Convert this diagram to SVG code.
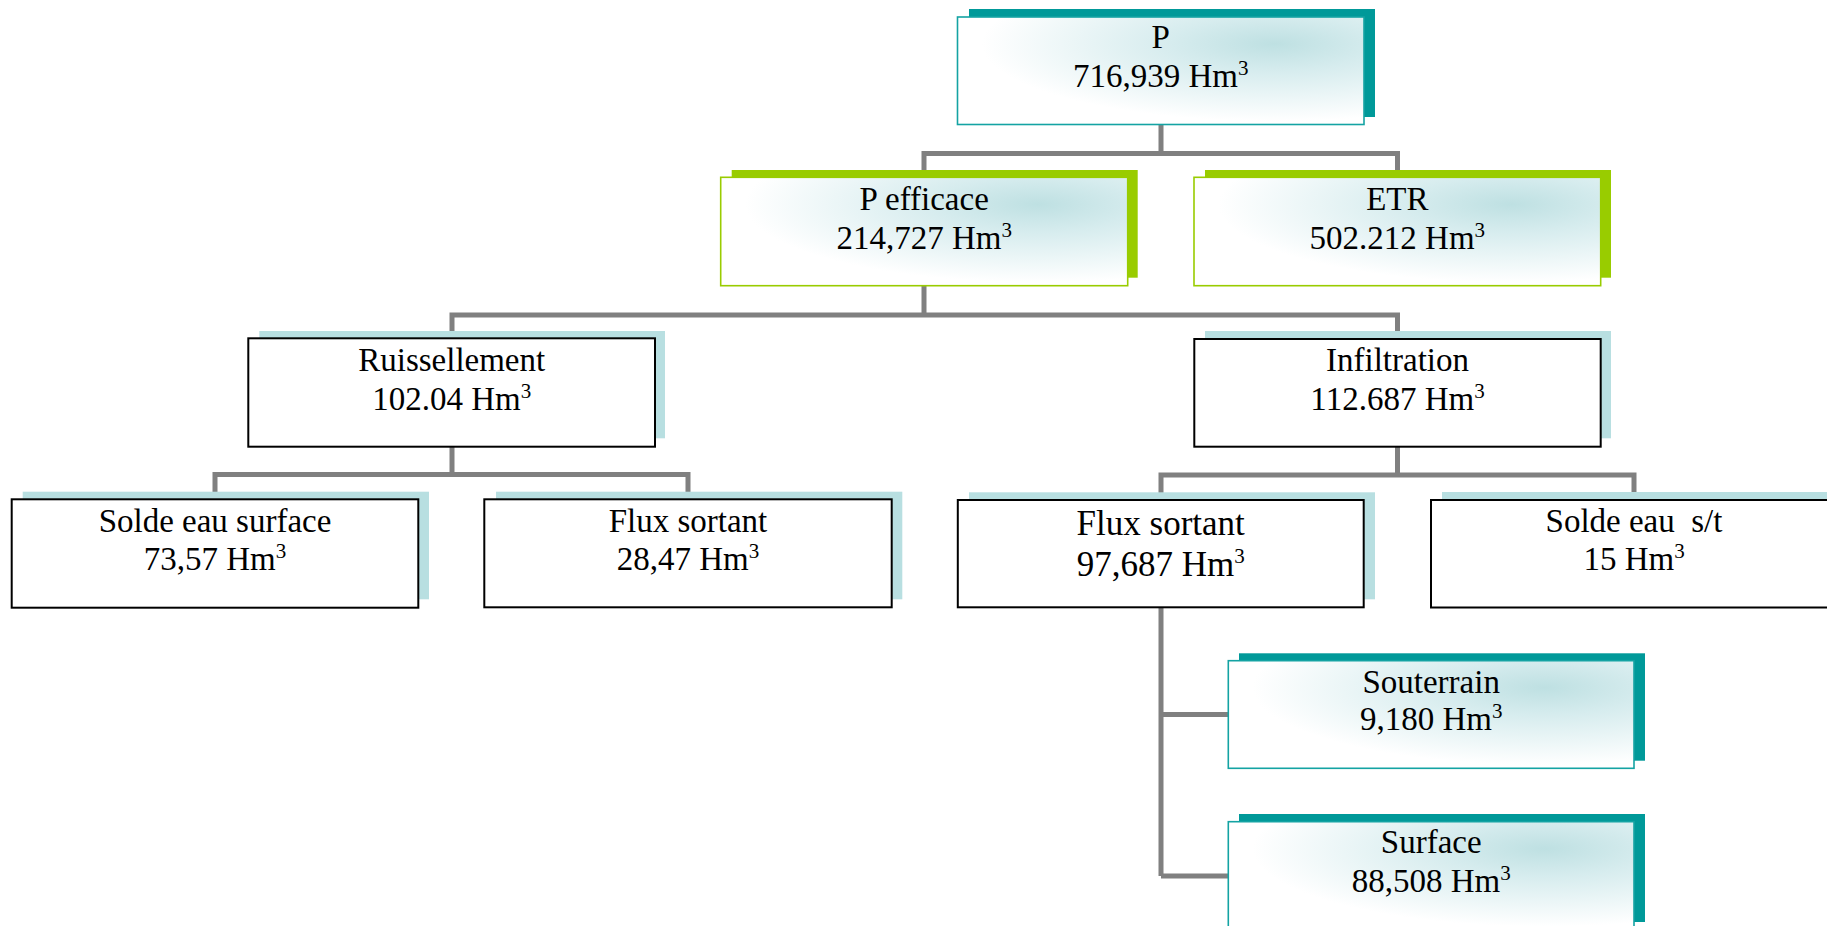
<svg xmlns="http://www.w3.org/2000/svg" width="1827" height="926" viewBox="0 0 1827 926">
<style>
.t{font-family:"Liberation Serif","Times New Roman",serif;font-size:33px;text-anchor:middle;fill:#000;white-space:pre}
.big{font-size:35px}
.sup{font-size:21px}
.shT{fill:#009999}
.shG{fill:#99cc00}
.shB{fill:#b8dfe1}
.mT{fill:url(#grad);stroke:#14a3a3;stroke-width:1.6}
.mG{fill:url(#grad);stroke:#99cc00;stroke-width:1.6}
.mW{fill:#fff;stroke:#000;stroke-width:2}
.conn{fill:none;stroke:#808080;stroke-width:5;stroke-linejoin:miter;stroke-linecap:butt}
</style>
<defs>
<radialGradient id="grad" cx="0.78" cy="0.25" r="0.72" fx="0.78" fy="0.25">
<stop offset="0" stop-color="#bee0e2"/>
<stop offset="0.35" stop-color="#d6ecee"/>
<stop offset="1" stop-color="#ffffff"/>
</radialGradient>
</defs>
<rect width="1827" height="926" fill="#fff"/>
<g id="connectors">
<path class="conn" d="M1161 124 V153.5 M924 172 V153.5 H1397.5 V172"/>
<path class="conn" d="M924 285 V315 M452 333 V315 H1397.5 V333"/>
<path class="conn" d="M452 446 V474.5 M215 493 V474.5 H688 V493"/>
<path class="conn" d="M1397.5 446 V475 M1161 493 V475 H1634 V493"/>
<path class="conn" d="M1161 607 V876 M1161 714.5 H1229 M1161 876 H1229"/>
</g>
<g id="node-p">
<rect class="shT" x="969" y="9" width="406" height="108"/>
<rect class="mT" x="957.5" y="17" width="406.5" height="107.5"/>
<text class="t" x="1160.7" y="48">P</text>
<text class="t" x="1160.7" y="87">716,939 Hm<tspan class="sup" dy="-12">3</tspan></text>
</g>
<g id="node-peff">
<rect class="shG" x="731.7" y="170" width="406" height="107.7"/>
<rect class="mG" x="720.7" y="177.3" width="407" height="108.4"/>
<text class="t" x="924.2" y="210">P efficace</text>
<text class="t" x="924.2" y="249">214,727 Hm<tspan class="sup" dy="-12">3</tspan></text>
</g>
<g id="node-etr">
<rect class="shG" x="1205" y="170" width="406" height="107.7"/>
<rect class="mG" x="1194" y="177.3" width="406.7" height="108.4"/>
<text class="t" x="1397.3" y="210">ETR</text>
<text class="t" x="1397.3" y="249">502.212 Hm<tspan class="sup" dy="-12">3</tspan></text>
</g>
<g id="node-ruis">
<rect class="shB" x="259.3" y="331" width="405.7" height="107.3"/>
<rect class="mW" x="248.3" y="338.3" width="406.7" height="108.4"/>
<text class="t" x="451.7" y="370.7">Ruissellement</text>
<text class="t" x="451.7" y="410">102.04 Hm<tspan class="sup" dy="-12">3</tspan></text>
</g>
<g id="node-infil">
<rect class="shB" x="1205" y="331" width="406" height="107.3"/>
<rect class="mW" x="1194.3" y="339" width="406.4" height="107.7"/>
<text class="t" x="1397.5" y="370.7">Infiltration</text>
<text class="t" x="1397.5" y="410">112.687 Hm<tspan class="sup" dy="-12">3</tspan></text>
</g>
<g id="node-solde-surf">
<rect class="shB" x="22.7" y="491.7" width="406.3" height="107.6"/>
<rect class="mW" x="11.7" y="499.3" width="406.6" height="108.4"/>
<text class="t" x="215" y="531.7">Solde eau surface</text>
<text class="t" x="215" y="570">73,57 Hm<tspan class="sup" dy="-12">3</tspan></text>
</g>
<g id="node-flux1">
<rect class="shB" x="496" y="491.7" width="406.3" height="107.6"/>
<rect class="mW" x="484.3" y="499.3" width="407.4" height="108"/>
<text class="t" x="688" y="531.7">Flux sortant</text>
<text class="t" x="688" y="570">28,47 Hm<tspan class="sup" dy="-12">3</tspan></text>
</g>
<g id="node-flux2">
<rect class="shB" x="969" y="492.3" width="406" height="107"/>
<rect class="mW" x="957.8" y="500" width="405.9" height="107.3"/>
<text class="t big" x="1160.7" y="535">Flux sortant</text>
<text class="t big" x="1160.7" y="576">97,687 Hm<tspan class="sup" dy="-13">3</tspan></text>
</g>
<g id="node-solde-st">
<rect class="shB" x="1442" y="492" width="406" height="107.3"/>
<rect class="mW" x="1431" y="500" width="406.5" height="107.5"/>
<text class="t" x="1634" y="531.7">Solde eau  s/t</text>
<text class="t" x="1634" y="570">15 Hm<tspan class="sup" dy="-12">3</tspan></text>
</g>
<g id="node-souterrain">
<rect class="shT" x="1239" y="653.3" width="406" height="107.4"/>
<rect class="mT" x="1228.3" y="660.7" width="405.7" height="107.6"/>
<text class="t" x="1431.2" y="692.7">Souterrain</text>
<text class="t" x="1431.2" y="730">9,180 Hm<tspan class="sup" dy="-12">3</tspan></text>
</g>
<g id="node-surface">
<rect class="shT" x="1239" y="814" width="406" height="108"/>
<rect class="mT" x="1228.3" y="821.7" width="405.7" height="108"/>
<text class="t" x="1431.2" y="852.7">Surface</text>
<text class="t" x="1431.2" y="891.7">88,508 Hm<tspan class="sup" dy="-12">3</tspan></text>
</g>
</svg>
